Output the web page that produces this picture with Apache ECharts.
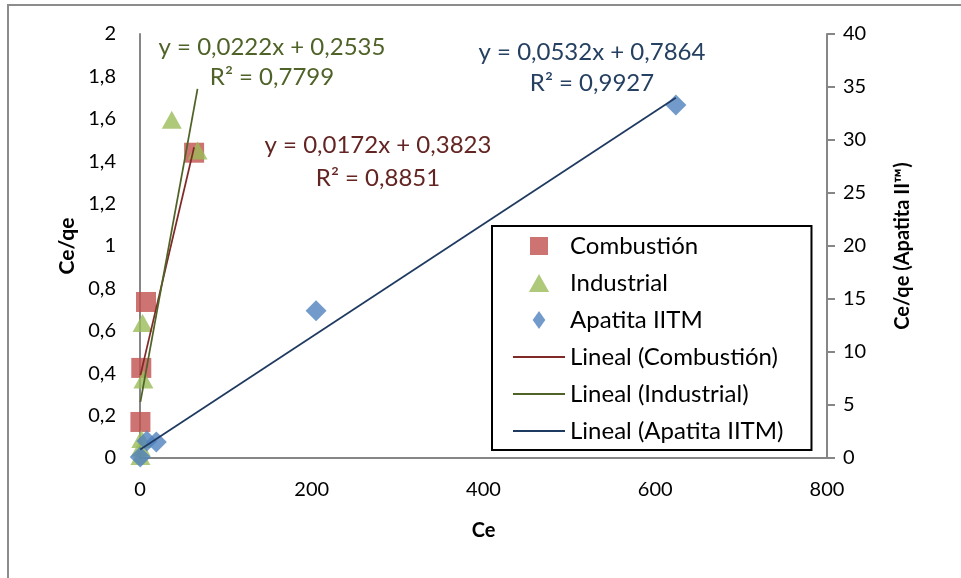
<!DOCTYPE html>
<html>
<head>
<meta charset="utf-8">
<script src="https://cdn.jsdelivr.net/npm/echarts@6/dist/echarts.min.js"></script>
<style>
  html, body { margin: 0; padding: 0; background: #ffffff; }
  #chart { width: 961px; height: 578px; }
</style>
</head>
<body>
<div id="chart"></div>
<script>
// Linearised isotherm data: Ce vs Ce/qe
const combustionCe = [0.5, 1.5, 7, 63];
const combustionCeQe = [0.17, 0.425, 0.736, 1.44];

const industrialCe = [0.5, 1, 1.5, 4, 3, 37, 67];
const industrialCeQe = [0.01, 0.05, 0.09, 0.37, 0.637, 1.595, 1.45];

const apatitaCe = [0.3, 8, 19, 205, 624];
const apatitaCeQe = [0.1, 1.6, 1.5, 13.9, 33.3];

// Least-squares fits: slope, intercept, R²
const combustionFit = [0.0172, 0.3823, 0.8851];
const industrialFit = [0.0222, 0.2535, 0.7799];
const apatitaFit = [0.0532, 0.7864, 0.9927];

const leftTicks = [0, 2, 0.2];
const rightTicks = [0, 40, 5];
const xTicks = [0, 800, 200];

const FONT = 'Lato, "Open Sans", sans-serif';

const zip = (xs, ys) => xs.map((x, i) => [x, ys[i]]);
const comma = v => String(v).replace('.', ',');
const fitLine = (xs, fit) => {
  const lo = Math.min(...xs), hi = Math.max(...xs);
  return [[lo, fit[0] * lo + fit[1]], [hi, fit[0] * hi + fit[1]]];
};
const eqText = fit => 'y = ' + comma(fit[0].toFixed(4)) + 'x + ' + comma(fit[1].toFixed(4));
const r2Text = fit => 'R\u00B2 = ' + comma(fit[2].toFixed(4));

const C = {
  combMark: '#C0504D', indMark: '#9BBB59', apaMark: '#4F81BD',
  combLine: '#7f2a27', indLine: '#4f6228', apaLine: '#1f3a60',
  combText: '#632523', indText: '#4F6228', apaText: '#254061',
  axis: '#868686'
};

const eqLabels = [
  { fit: industrialFit, color: C.indText, x: 272, y1: 47, y2: 77 },
  { fit: combustionFit, color: C.combText, x: 378, y1: 145, y2: 178 },
  { fit: apatitaFit, color: C.apaText, x: 592, y1: 52, y2: 83 }
];

const graphics = [{
  type: 'rect', silent: true, z: -10,
  shape: { x: 8, y: 5, width: 1000, height: 620 },
  style: { fill: 'none', stroke: '#8c8c8c', lineWidth: 2 }
}];
eqLabels.forEach(l => {
  [[eqText(l.fit), l.y1], [r2Text(l.fit), l.y2]].forEach(([t, y]) => {
    graphics.push({
      type: 'text', z: 100, x: l.x, y: y,
      style: { text: t, fill: l.color, font: '24px ' + FONT, textAlign: 'center', textVerticalAlign: 'middle' }
    });
  });
});

// Legend icons (paths keep their aspect ratio inside the icon box)
const SQUARE_ICON = 'path://M0,0H18V18H0Z';
const TRIANGLE_ICON = 'path://M9,0L18,16H0Z';
const DIAMOND_ICON = 'path://M7,0L14,10L7,20L0,10Z';
const LINE_ICON = 'path://M0,0H52V2H0Z';

const chart = echarts.init(document.getElementById('chart'), null, { renderer: 'canvas' });

const axisLabelStyle = { color: '#000', fontFamily: FONT, fontSize: 20 };

chart.setOption({
  animation: false,
  backgroundColor: '#ffffff',
  grid: { left: 140, right: 134, top: 34, bottom: 120 },
  xAxis: {
    type: 'value', min: xTicks[0], max: xTicks[1], interval: xTicks[2],
    name: 'Ce', nameLocation: 'middle', nameGap: 63,
    nameTextStyle: { color: '#000', fontFamily: FONT, fontSize: 20, fontWeight: 'bold' },
    axisLine: { lineStyle: { color: C.axis, width: 2 } },
    axisTick: { show: false },
    splitLine: { show: false },
    axisLabel: Object.assign({ margin: 22 }, axisLabelStyle)
  },
  yAxis: [{
    type: 'value', position: 'left', min: leftTicks[0], max: leftTicks[1], interval: leftTicks[2],
    name: 'Ce/qe', nameLocation: 'middle', nameGap: 62, nameRotate: 90,
    nameTextStyle: { color: '#000', fontFamily: FONT, fontSize: 21, fontWeight: 'bold' },
    axisLine: { show: true, onZero: false, lineStyle: { color: C.axis, width: 2 } },
    axisTick: { show: false },
    splitLine: { show: false },
    axisLabel: Object.assign({ margin: 24, formatter: v => comma(+v.toFixed(1)) }, axisLabelStyle)
  }, {
    type: 'value', position: 'right', min: rightTicks[0], max: rightTicks[1], interval: rightTicks[2],
    name: 'Ce/qe (Apatita II\u2122)', nameLocation: 'middle', nameGap: 66, nameRotate: 90,
    nameTextStyle: { color: '#000', fontFamily: FONT, fontSize: 20, fontWeight: 'bold' },
    axisLine: { show: true, onZero: false, lineStyle: { color: C.axis, width: 2 } },
    axisTick: { show: true, inside: false, length: 8, lineStyle: { color: C.axis, width: 2 } },
    splitLine: { show: false },
    axisLabel: Object.assign({ margin: 16 }, axisLabelStyle)
  }],
  legend: {
    orient: 'vertical', left: 492, top: 226,
    padding: [6, 28, 5, 21],
    borderColor: '#000', borderWidth: 2, backgroundColor: '#fff',
    itemWidth: 52, itemHeight: 18, itemGap: 9,
    symbolKeepAspect: true,
    textStyle: { color: '#000', fontFamily: FONT, fontSize: 24, lineHeight: 28 },
    data: [
      { name: 'Combustión', icon: SQUARE_ICON },
      { name: 'Industrial', icon: TRIANGLE_ICON },
      { name: 'Apatita IITM', icon: DIAMOND_ICON },
      { name: 'Lineal (Combustión)', icon: LINE_ICON },
      { name: 'Lineal (Industrial)', icon: LINE_ICON },
      { name: 'Lineal (Apatita IITM)', icon: LINE_ICON }
    ]
  },
  graphic: graphics,
  series: [{
    name: 'Combustión', type: 'scatter', yAxisIndex: 0, z: 2,
    symbol: 'rect', symbolSize: 20,
    itemStyle: { color: C.combMark },
    data: zip(combustionCe, combustionCeQe)
  }, {
    name: 'Industrial', type: 'scatter', yAxisIndex: 0, z: 3,
    symbol: 'triangle', symbolSize: [20, 18],
    itemStyle: { color: C.indMark },
    data: zip(industrialCe, industrialCeQe)
  }, {
    name: 'Apatita IITM', type: 'scatter', yAxisIndex: 1, z: 4,
    symbol: 'diamond', symbolSize: 21,
    itemStyle: { color: C.apaMark },
    data: zip(apatitaCe, apatitaCeQe)
  }, {
    name: 'Lineal (Combustión)', type: 'line', yAxisIndex: 0, z: 5,
    showSymbol: false, symbol: 'none',
    lineStyle: { color: C.combLine, width: 1.75 }, itemStyle: { color: C.combLine },
    data: fitLine(combustionCe, combustionFit)
  }, {
    name: 'Lineal (Industrial)', type: 'line', yAxisIndex: 0, z: 5,
    showSymbol: false, symbol: 'none',
    lineStyle: { color: C.indLine, width: 1.75 }, itemStyle: { color: C.indLine },
    data: fitLine(industrialCe, industrialFit)
  }, {
    name: 'Lineal (Apatita IITM)', type: 'line', yAxisIndex: 1, z: 5,
    showSymbol: false, symbol: 'none',
    lineStyle: { color: C.apaLine, width: 1.75 }, itemStyle: { color: C.apaLine },
    data: fitLine(apatitaCe, apatitaFit)
  }]
});
</script>
</body>
</html>
